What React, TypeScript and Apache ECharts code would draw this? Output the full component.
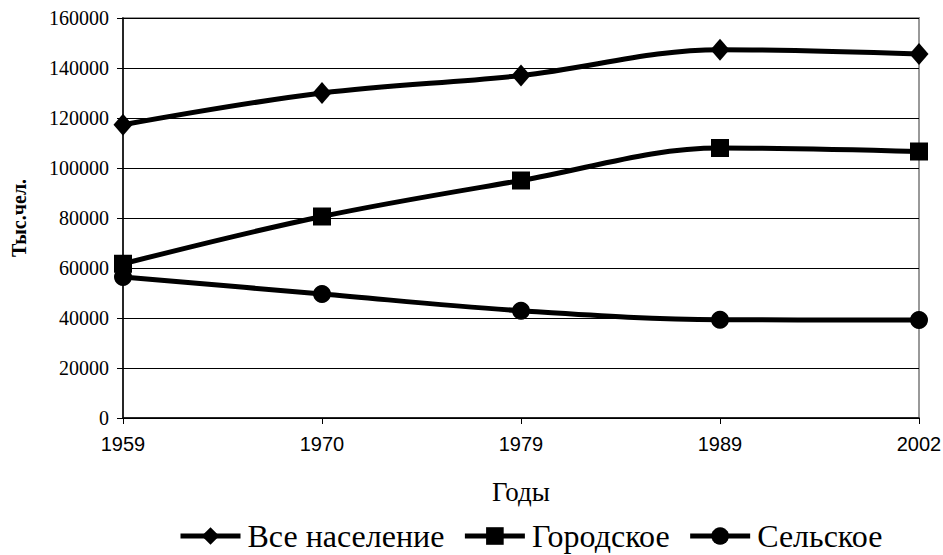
import React, { useEffect, useRef } from "react";
import * as echarts from "echarts";

const years = ["1959", "1970", "1979", "1989", "2002"];
const seriesNames = ["Все население", "Городское", "Сельское"];
const allPop = [117300, 130000, 137000, 147300, 145600];
const urbanPop = [61700, 80600, 95000, 108000, 106600];
const ruralPop = [56400, 49600, 42900, 39300, 39200];
const yAxisName = "Тыс.чел.";
const xAxisName = "Годы";

const SERIF = "Liberation Serif";
const SANS = "Liberation Sans";

export default function App() {
  const ref = useRef<HTMLDivElement>(null);
  useEffect(() => {
    document.body.style.margin = "0";
    const chart = echarts.init(ref.current!, null, { renderer: "svg" });
    const mk = (name: string, data: number[], symbol: string, size: any) => ({
      name,
      type: "line",
      data,
      smooth: 0.35,
      symbol,
      symbolSize: size,
      lineStyle: { color: "#000", width: 5 },
      itemStyle: { color: "#000", borderWidth: 0 },
      emphasis: { disabled: true },
    });
    chart.setOption({
      animation: false,
      backgroundColor: "#fff",
      textStyle: { fontFamily: SERIF },
      grid: {
        left: 123,
        right: 24,
        top: 18,
        bottom: 137,
        outerBoundsMode: "none",
        containLabel: false,
        show: true,
        borderColor: "#999",
        borderWidth: 2,
        backgroundColor: "transparent",
      },
      legend: {
        data: seriesNames,
        top: 520,
        left: 178,
        padding: 0,
        itemWidth: 60,
        itemHeight: 22,
        itemGap: 18,
        lineStyle: { width: 5, color: "#000" },
        textStyle: {
          fontFamily: SERIF,
          fontSize: 32,
          lineHeight: 32,
          color: "#000",
          padding: [0, 0, 0, 2],
        },
      },
      xAxis: {
        type: "category",
        data: years,
        boundaryGap: false,
        name: xAxisName,
        nameLocation: "middle",
        nameGap: 60,
        nameTextStyle: { fontFamily: SERIF, fontSize: 27, color: "#000" },
        axisLine: { lineStyle: { color: "#000", width: 1.5 } },
        axisTick: { show: true, length: 6, lineStyle: { color: "#000" } },
        axisLabel: { fontFamily: SANS, fontSize: 20, color: "#000", margin: 16 },
        splitLine: { show: false },
      },
      yAxis: {
        type: "value",
        min: 0,
        max: 160000,
        interval: 20000,
        name: yAxisName,
        nameLocation: "middle",
        nameRotate: 90,
        nameGap: 94,
        nameTextStyle: { fontFamily: SERIF, fontSize: 20, fontWeight: "bold", color: "#000" },
        axisLine: { show: true, lineStyle: { color: "#000", width: 1.5 } },
        axisTick: { show: true, length: 6, lineStyle: { color: "#000" } },
        axisLabel: {
          fontFamily: SERIF,
          fontSize: 20,
          color: "#000",
          margin: 14,
          formatter: (v: number) => String(v),
        },
        splitLine: { show: true, lineStyle: { color: "#000", width: 1 } },
      },
      series: [
        mk(seriesNames[0], allPop, "diamond", [19, 22]),
        mk(seriesNames[1], urbanPop, "rect", 18),
        mk(seriesNames[2], ruralPop, "circle", 18),
      ],
    });
    return () => chart.dispose();
  }, []);
  return <div ref={ref} style={{ width: 943, height: 555 }} />;
}
